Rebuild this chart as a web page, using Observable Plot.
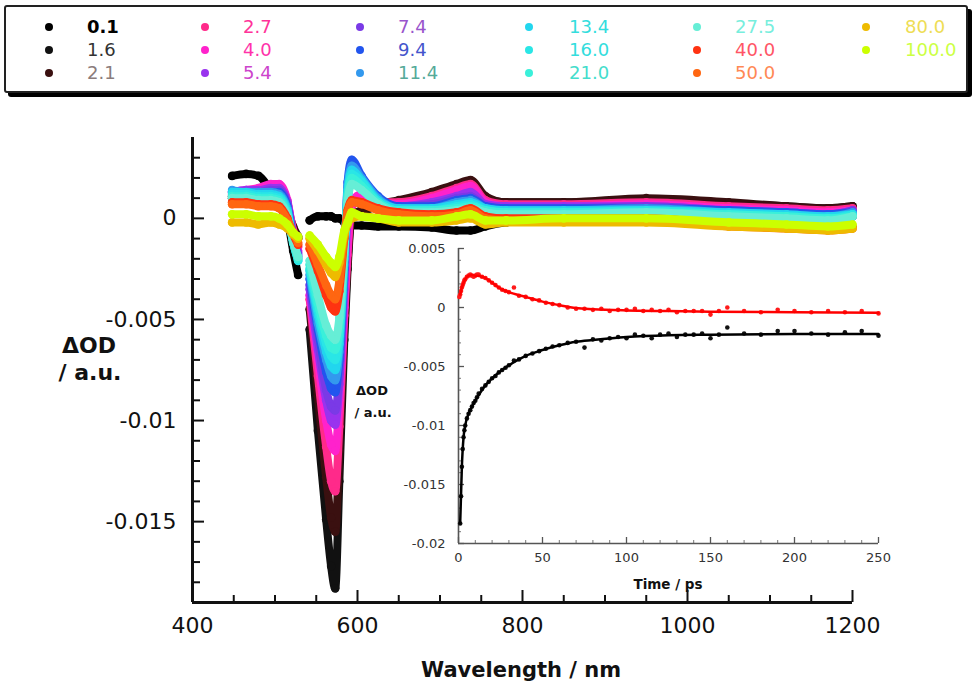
<!DOCTYPE html>
<html><head><meta charset="utf-8">
<script src="https://cdn.jsdelivr.net/npm/d3@7"></script>
<script src="https://cdn.jsdelivr.net/npm/@observablehq/plot@0.6"></script>
<style>
body{margin:0;background:#fff;width:980px;height:691px;overflow:hidden;position:relative;font-family:"DejaVu Sans",sans-serif;}
.abs{position:absolute;white-space:nowrap;line-height:1;transform:translate(-50%,-50%);}
#legendBox{position:absolute;left:4px;top:5px;width:960px;height:84px;border:2px solid #222;box-shadow:4px 4px 0 #000;border-radius:3px;background:#fff;}
.ldot{position:absolute;width:8px;height:8px;border-radius:50%;transform:translate(-50%,-50%);}
.ltext{position:absolute;font-size:18px;line-height:1;transform:translateY(-50%);white-space:nowrap;}
.bold{font-weight:bold;color:#111;}
</style></head><body>
<div id="legendBox"></div>
<div id="legend"></div>
<div id="main" style="position:absolute;left:0;top:100px;"></div>
<div id="inset" style="position:absolute;left:380px;top:235px;"></div>
<div class="abs bold" style="left:89px;top:346px;font-size:22px;">ΔOD</div>
<div class="abs bold" style="left:90px;top:373px;font-size:22px;">/ a.u.</div>
<div class="abs bold" style="left:521px;top:670px;font-size:21px;">Wavelength / nm</div>
<div class="abs bold" style="left:372px;top:390px;font-size:13px;">ΔOD</div>
<div class="abs bold" style="left:373px;top:412px;font-size:13px;">/ a.u.</div>
<div class="abs bold" style="left:668px;top:585px;font-size:13.5px;">Time / ps</div>
<script>
// ---- legend ----
const delays = ["0.1","1.6","2.1","2.7","4.0","5.4","7.4","9.4","11.4","13.4","16.0","21.0","27.5","40.0","50.0","80.0","100.0"];
const dotColors = ["#000000","#111111","#3a1010","#ff2a8a","#ff22cc","#9933ee","#7a3ae6","#2255ee","#3399ee","#22d6ee","#2ae6e6","#3af0da","#66eed6","#ff3311","#ff6611","#eebb00","#ccff00"];
const textColors = ["#000000","#333333","#8a7c7c","#ff3399","#ff33aa","#cc44cc","#9955cc","#4455cc","#55aa99","#33dddd","#33dddd","#44ddcc","#77eedd","#ff5566","#ff8855","#eedd55","#ccff44"];

// ---- spectra (mOD) ----
const wavelengths = [448,465,480,495,505,515,522,528, 535,542,552,562,568,573,578,584, 588,593,605,625,650,690,720,737, 755,780,850,950,1050,1120,1170,1200];
const s01  = [2.1,2.2,2.1,1.4,1.0,0.0,-1.6,-2.8, null,-0.1,0.1,0.1,0.1,0.0,0.0,-0.2, -0.3,-0.35,-0.35,-0.4,-0.4,-0.45,-0.6,-0.6, -0.4,-0.2,0.0,0.1,0.0,0.0,0.0,0.1];
const s16  = [1.0,1.1,1.2,1.3,1.3,0.4,-0.5,-1.0, null,-5.5,-10.5,-14.9,-17.2,-18.3,-13.0,-6.0, -2.5,0.0,0.3,0.6,0.8,1.2,1.6,1.8, 1.0,0.8,0.8,0.9,0.7,0.6,0.5,0.6];
const s21  = [1.1,1.2,1.3,1.4,1.4,0.5,-0.4,-0.9, null,-4.5,-8.8,-12.8,-14.8,-15.5,-11.5,-5.3, -2.2,0.2,0.4,0.7,0.9,1.3,1.7,1.9, 1.1,0.8,0.8,1.0,0.8,0.6,0.5,0.6];
const s27  = [1.2,1.3,1.4,1.6,1.6,0.8,-0.6,-1.4, null,-4.0,-7.8,-11.3,-13.0,-13.5,-10.3,-4.8, -1.8,0.6,1.0,0.8,0.8,1.1,1.5,1.7, 0.9,0.7,0.7,0.8,0.6,0.5,0.4,0.5];
const s40  = [1.3,1.4,1.5,1.7,1.7,0.9,-0.7,-1.6, null,-3.8,-7.0,-10.0,-11.2,-11.5,-9.0,-4.4, -1.4,0.8,1.2,0.8,0.7,1.0,1.4,1.6, 0.8,0.6,0.6,0.7,0.5,0.4,0.3,0.4];
const s54  = [1.3,1.4,1.4,1.5,1.5,0.8,-0.8,-1.7, null,-3.5,-6.5,-9.0,-10.0,-10.2,-8.2,-3.5, 0.3,2.6,1.7,0.9,0.6,0.8,1.1,1.3, 0.7,0.6,0.6,0.6,0.4,0.3,0.2,0.4];
const s74  = [1.3,1.3,1.3,1.4,1.4,0.7,-0.9,-1.8, null,-3.3,-6.0,-8.5,-9.3,-9.5,-7.7,-3.0, 1.0,2.8,1.9,1.0,0.6,0.7,1.0,1.1, 0.6,0.5,0.5,0.6,0.4,0.3,0.2,0.4];
const s94  = [1.3,1.3,1.3,1.3,1.3,0.6,-1.0,-1.9, null,-3.0,-5.5,-7.6,-8.4,-8.6,-7.0,-2.5, 1.8,2.9,2.1,1.1,0.6,0.6,0.9,1.0, 0.6,0.5,0.5,0.5,0.4,0.3,0.2,0.3];
const s114 = [1.4,1.3,1.3,1.3,1.2,0.5,-1.1,-2.0, null,-2.8,-5.2,-7.0,-7.8,-8.0,-6.6,-2.3, 1.6,2.6,2.0,1.0,0.5,0.5,0.8,0.9, 0.5,0.4,0.4,0.5,0.3,0.2,0.1,0.3];
const s134 = [1.3,1.3,1.2,1.2,1.1,0.4,-1.2,-2.1, null,-2.6,-4.8,-6.6,-7.3,-7.5,-6.2,-2.0, 1.4,2.4,1.9,0.9,0.5,0.5,0.7,0.8, 0.5,0.4,0.4,0.4,0.3,0.2,0.1,0.2];
const s160 = [1.2,1.2,1.1,1.1,1.0,0.3,-1.2,-2.1, null,-2.5,-4.5,-6.2,-6.8,-7.0,-5.8,-1.8, 1.2,2.2,1.8,0.8,0.4,0.4,0.6,0.7, 0.4,0.3,0.3,0.4,0.2,0.1,0.0,0.2];
const s210 = [1.1,1.1,1.0,1.0,0.9,0.2,-1.2,-2.0, null,-2.3,-4.2,-5.8,-6.4,-6.5,-5.4,-1.6, 1.0,2.0,1.6,0.8,0.4,0.4,0.5,0.6, 0.4,0.3,0.3,0.3,0.2,0.1,0.0,0.1];
const s275 = [1.0,1.0,0.9,0.9,0.8,0.1,-1.1,-1.9, null,-2.1,-3.8,-5.3,-5.8,-6.0,-4.9,-1.4, 0.8,1.7,1.4,0.7,0.3,0.3,0.4,0.5, 0.3,0.2,0.2,0.3,0.1,0.0,-0.1,0.1];
const s400 = [0.8,0.8,0.7,0.7,0.6,0.0,-0.8,-1.3, null,-1.5,-2.6,-3.8,-4.4,-4.6,-3.6,-1.0, 0.4,0.9,0.8,0.5,0.3,0.2,0.3,0.5, 0.1,0.0,0.0,0.0,-0.3,-0.4,-0.5,-0.4];
const s500 = [0.7,0.7,0.6,0.6,0.5,-0.1,-0.7,-1.2, null,-1.3,-2.3,-3.3,-3.8,-4.0,-3.1,-0.9, 0.3,0.8,0.7,0.4,0.2,0.1,0.2,0.4, 0.0,-0.1,-0.1,-0.1,-0.4,-0.5,-0.6,-0.5];
const s800 = [-0.2,-0.2,-0.3,-0.2,-0.3,-0.5,-0.8,-1.0, null,-1.0,-1.6,-2.3,-2.7,-2.9,-2.2,-0.8, -0.3,0.0,0.1,0.0,-0.2,-0.2,-0.1,0.0, -0.3,-0.2,-0.2,-0.2,-0.4,-0.5,-0.6,-0.5];
const s1000= [0.2,0.2,0.1,0.1,0.0,-0.3,-0.7,-0.9, null,-0.85,-1.3,-1.9,-2.2,-2.4,-1.9,-0.6, -0.2,0.3,0.1,0.0,-0.1,-0.1,0.1,0.2, -0.1,-0.1,0.0,0.0,-0.2,-0.3,-0.4,-0.3];
const spectra = [s01,s16,s21,s27,s40,s54,s74,s94,s114,s134,s160,s210,s275,s400,s500,s800,s1000];

// ---- axis ticks ----
const xLabelTicks = [400,600,800,1000,1200];
const xMajorTicks = [600,800,1000,1200];
const xMinorTicks = [450,500,550,650,700,750,850,900,950,1050,1100,1150];
const yLabelTicks = [0,-0.005,-0.01,-0.015];
const yMinorTicks = [0.003,0.002,0.001,-0.001,-0.002,-0.003,-0.004,-0.006,-0.007,-0.008,-0.009,-0.011,-0.012,-0.013,-0.014,-0.016,-0.017,-0.018];

// ---- inset kinetics (mOD) ----
const insetTimes = [0.5,1,1.5,2,2.5,3,3.5,4, 5,6,7,8,9,10,11,12, 14,16,18,20,22,24,26,28,30, 33,36,40,44,48,52,56,60, 65,70,75,80,85,90,95,100, 105,110,115,120,125,130,135,140,145,150, 155,160,170,180,190,200,210,220,230,240,250];
const insetBlack = [null,-18.3,-16.0,-13.5,-12.0,-11.0,-10.4,-10.0, -9.4,-9.0,-8.7,-8.4,-8.1,-7.9,-7.6,-7.3, -6.9,-6.6,-6.3,-6.0,-5.8,-5.5,-5.3,-5.1,-4.9, -4.5,-4.4,-4.1,-3.9,-3.7,-3.5,-3.3,-3.2, -3.0,-2.9,-3.4,-2.7,-2.8,-2.6,-2.5,-2.6, -2.3,-2.4,-2.6,-2.3,-2.2,-2.5,-2.3,-2.3,-2.2,-2.6, -2.3,-1.7,-2.2,-2.3,-2.0,-2.0,-2.2,-2.3,-2.1,-2.0,-2.4];
const insetRed = [0.9,1.1,1.4,1.7,1.9,2.1,2.3,2.4, 2.6,2.7,2.8,2.7,2.6,2.7,2.8,2.8, 2.6,2.5,2.3,2.1,1.9,1.7,1.5,1.4,1.3, 1.7,1.0,0.9,0.7,0.6,0.4,0.3,0.2, 0.0,-0.1,-0.1,-0.2,-0.1,-0.3,-0.2,-0.2, -0.1,-0.3,-0.2,-0.3,-0.2,-0.4,-0.3,-0.3,-0.3,-0.6, -0.3,0.0,-0.3,-0.4,-0.2,-0.3,-0.4,-0.3,-0.4,-0.3,-0.5];
const fitTimes = [1,2,3,4,6,8,10,13,16,20,25,30,40,50,60,70,80,100,125,150,200,250];
const fitBlack = [-18.3,-13.5,-11.0,-10.0,-9.0,-8.4,-7.9,-7.2,-6.6,-6.0,-5.4,-4.9,-4.1,-3.6,-3.2,-2.9,-2.75,-2.5,-2.35,-2.3,-2.25,-2.25];
const fitRed = [1.1,1.7,2.1,2.4,2.7,2.75,2.7,2.65,2.5,2.1,1.6,1.3,0.9,0.5,0.2,-0.05,-0.15,-0.25,-0.3,-0.35,-0.4,-0.45];
const tLabelTicks = [0,50,100,150,200,250];
const tMinorTicks = d3.range(0,251,10);
const odInsetLabelTicks = [0.005,0,-0.005,-0.01,-0.015,-0.02];
const odInsetMinorTicks = d3.range(-20,6,1).map(d => d/1000);

// legend
const colDot = [49,205,360,529,697,866];
const colText = [87,243,398,569,735,905];
const rowY = [27,50,73];
const leg = document.getElementById("legend");
delays.forEach((d,i) => {
  const c = Math.floor(i/3), r = i%3;
  const dot = document.createElement("div");
  dot.className = "ldot";
  dot.style.left = colDot[c]+"px"; dot.style.top = rowY[r]+"px"; dot.style.background = dotColors[i];
  leg.appendChild(dot);
  const t = document.createElement("div");
  t.className = "ltext";
  t.style.left = colText[c]+"px"; t.style.top = rowY[r]+"px"; t.style.color = textColors[i];
  if (i === 0) t.style.fontWeight = "bold";
  t.textContent = d;
  leg.appendChild(t);
});

// main chart
const toRows = vals => wavelengths.map((w,i) => ({wl: w, od: vals[i] == null ? null : vals[i]/1000}));
const specMarks = [];
spectra.forEach((vals,i) => {
  const data = toRows(vals);
  specMarks.push(Plot.line(data, {x:"wl", y:"od", stroke: dotColors[i], strokeWidth: 8, curve: "monotone-x", strokeLinecap: "round", strokeLinejoin: "round"}));
  specMarks.push(Plot.dot(data, {x:"wl", y:"od", r: 4.3, fill: dotColors[i]}));
});
const blank = () => "";
const main = Plot.plot({
  width: 980, height: 591,
  marginLeft: 192, marginRight: 128, marginTop: 37, marginBottom: 89,
  x: {domain: [400,1200]},
  y: {domain: [-0.019, 0.004]},
  style: {background: "transparent", fontFamily: "DejaVu Sans", fontSize: "22px", color: "#111"},
  marks: [
    ...specMarks,
    Plot.axisX(xMinorTicks, {tickSize: -7, strokeWidth: 2, tickFormat: blank, label: null}),
    Plot.axisX(xMajorTicks, {tickSize: -12, strokeWidth: 2, tickFormat: blank, label: null}),
    Plot.axisX(xLabelTicks, {tickSize: 0, tickPadding: 15, tickFormat: d => String(d), label: null, fontSize: 22}),
    Plot.axisY(yMinorTicks, {tickSize: -8, strokeWidth: 2, tickFormat: blank, label: null}),
    Plot.axisY(yLabelTicks, {tickSize: -12, strokeWidth: 2, tickFormat: blank, label: null}),
    Plot.axisY(yLabelTicks, {tickSize: 0, tickPadding: 16, tickFormat: d => String(d), label: null, fontSize: 22}),
    Plot.ruleY([-0.019], {strokeWidth: 3, stroke: "#111"}),
    Plot.ruleX([400], {strokeWidth: 3, stroke: "#111"})
  ]
});
document.getElementById("main").appendChild(main);

// inset
const insetRows = vals => insetTimes.map((t,i) => ({t, od: vals[i] == null ? null : vals[i]/1000}));
const fitRows = vals => fitTimes.map((t,i) => ({t, od: vals[i]/1000}));
const inset = Plot.plot({
  width: 520, height: 365,
  marginLeft: 78, marginRight: 22, marginTop: 13, marginBottom: 57,
  x: {domain: [0,250]},
  y: {domain: [-0.02, 0.005]},
  style: {background: "transparent", fontFamily: "DejaVu Sans", fontSize: "13px", color: "#333"},
  marks: [
    Plot.axisX(tMinorTicks, {tickSize: -3, stroke: "#777", tickFormat: blank, label: null}),
    Plot.axisX(tLabelTicks, {tickSize: -6, stroke: "#555", strokeWidth: 1.3, tickFormat: blank, label: null}),
    Plot.axisX(tLabelTicks, {tickSize: 0, tickPadding: 9, tickFormat: d => String(d), label: null}),
    Plot.axisY(odInsetMinorTicks, {tickSize: -3, stroke: "#777", tickFormat: blank, label: null}),
    Plot.axisY(odInsetLabelTicks, {tickSize: -6, stroke: "#555", strokeWidth: 1.3, tickFormat: blank, label: null}),
    Plot.axisY(odInsetLabelTicks, {tickSize: 0, tickPadding: 13, tickFormat: d => String(d), label: null}),
    Plot.ruleY([-0.02], {stroke: "#555", strokeWidth: 1.6}),
    Plot.ruleX([0], {stroke: "#555", strokeWidth: 1.6}),
    Plot.dot(insetRows(insetRed), {x: "t", y: "od", r: 2.3, fill: "#ff1a1a"}),
    Plot.dot(insetRows(insetBlack), {x: "t", y: "od", r: 2.3, fill: "#111"}),
    Plot.line(fitRows(fitRed), {x: "t", y: "od", stroke: "#ff0000", strokeWidth: 2.5, curve: "monotone-x"}),
    Plot.line(fitRows(fitBlack), {x: "t", y: "od", stroke: "#000", strokeWidth: 2.5, curve: "monotone-x"})
  ]
});
document.getElementById("inset").appendChild(inset);
</script>
</body></html>
